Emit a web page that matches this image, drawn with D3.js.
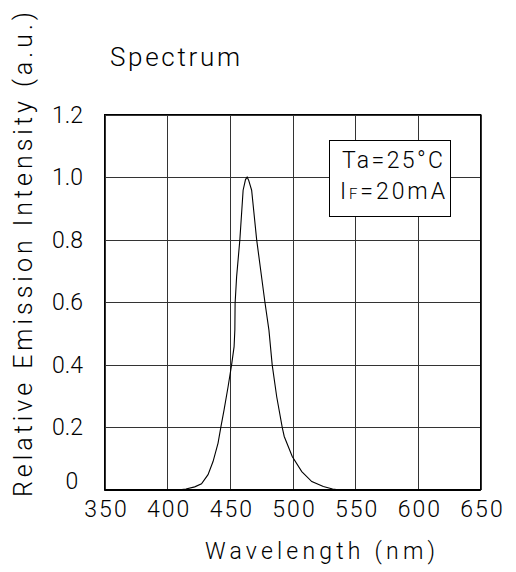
<!DOCTYPE html>
<html>
<head>
<meta charset="utf-8">
<script src="https://cdn.jsdelivr.net/npm/d3@7/dist/d3.min.js"></script>
<style>
    body { margin: 0; background: #fff; }
    text { font-family: Roboto, "DejaVu Sans", sans-serif; font-weight: 300; fill: #000; }
    .grid line { stroke: #333; stroke-width: 1; }
    .frame { fill: none; stroke: #000; stroke-width: 1; }
    .curve { fill: none; stroke: #000; stroke-width: 1.1; }
</style>
</head>
<body>
<script>
(function() {

//data
    var wavelength = [400, 410, 415, 422, 427.4, 432.6, 436.6, 440.6, 442.8, 445.4, 448.6, 451.4, 453.4, 454, 454.2, 455.4, 458, 460.6, 462.5, 463.8,
        465, 467.4, 471.4, 478, 481.2, 483.8, 487.4, 491.8, 493.4, 499.8, 507.4, 515.4, 524.6, 532, 538];
    var intensity = [0, 0.001, 0.003, 0.010, 0.020, 0.049, 0.091, 0.150, 0.200, 0.256, 0.330, 0.400, 0.458, 0.511, 0.596, 0.681, 0.800, 0.958, 0.992, 1.0,
        0.99, 0.958, 0.800, 0.600, 0.511, 0.400, 0.298, 0.200, 0.171, 0.107, 0.059, 0.027, 0.011, 0.003, 0];

    var xTicks = [350, 400, 450, 500, 550, 600, 650];
    var yTicks = [0, 0.2, 0.4, 0.6, 0.8, 1.0, 1.2];
    var yTickLabels = ["0", "0.2", "0.4", "0.6", "0.8", "1.0", "1.2"];

//frame dimensions
    var width = 516,
        height = 572,
        plotLeft = 104.5,
        plotRight = 480.5,
        plotTop = 114.5,
        plotBottom = 490;

    var svg = d3.select("body")
        .append("svg")
        .attr("width", width)
        .attr("height", height);

    var xScale = d3.scaleLinear()
        .domain([350, 650])
        .range([plotLeft, plotRight]);

    var yScale = d3.scaleLinear()
        .domain([0, 1.2])
        .range([plotBottom, plotTop]);

    //grid lines
    var grid = svg.append("g").attr("class", "grid");

    grid.selectAll(".vline")
        .data(xTicks)
        .enter()
        .append("line")
        .attr("x1", function(d) { return Math.round(xScale(d)) + 0.5; })
        .attr("x2", function(d) { return Math.round(xScale(d)) + 0.5; })
        .attr("y1", plotTop)
        .attr("y2", plotBottom);

    grid.selectAll(".hline")
        .data(yTicks)
        .enter()
        .append("line")
        .attr("x1", plotLeft)
        .attr("x2", plotRight)
        .attr("y1", function(d) { return Math.round(yScale(d)) + 0.5; })
        .attr("y2", function(d) { return Math.round(yScale(d)) + 0.5; });

    //plot frame, bottom edge heavier
    svg.append("rect")
        .attr("class", "frame")
        .attr("x", plotLeft)
        .attr("y", plotTop)
        .attr("width", plotRight - plotLeft)
        .attr("height", plotBottom - plotTop);

    svg.append("line")
        .attr("x1", plotLeft)
        .attr("x2", plotRight)
        .attr("y1", plotBottom)
        .attr("y2", plotBottom)
        .style("stroke", "#000")
        .style("stroke-width", 2);

    //spectrum curve
    var points = wavelength.map(function(w, i) { return [w, intensity[i]]; });

    var line = d3.line()
        .x(function(d) { return xScale(d[0]); })
        .y(function(d) { return yScale(d[1]); });

    svg.append("path")
        .datum(points)
        .attr("class", "curve")
        .attr("d", line);

    //tick labels
    svg.selectAll(".xlabel")
        .data(xTicks)
        .enter()
        .append("text")
        .attr("x", function(d) { return xScale(d) + 2; })
        .attr("y", 517)
        .attr("text-anchor", "middle")
        .style("font-size", "23px")
        .style("letter-spacing", "2px")
        .text(function(d) { return d; });

    //zero label sits a bit higher and more centred than the others
    svg.selectAll(".ylabel")
        .data(yTicks)
        .enter()
        .append("text")
        .attr("x", function(d) { return d === 0 ? 72 : 83; })
        .attr("y", function(d) { return yScale(d) + (d === 0 ? -9 : 0); })
        .attr("dy", "0.35em")
        .attr("text-anchor", function(d) { return d === 0 ? "middle" : "end"; })
        .style("font-size", "23px")
        .text(function(d, i) { return yTickLabels[i]; });

    //titles
    svg.append("text")
        .attr("x", 110)
        .attr("y", 66)
        .attr("textLength", 130)
        .style("font-size", "26px")
        .text("Spectrum");

    svg.append("text")
        .attr("x", 205)
        .attr("y", 559)
        .attr("textLength", 230)
        .style("font-size", "23px")
        .text("Wavelength (nm)");

    svg.append("text")
        .attr("transform", "translate(32,254.5) rotate(-90)")
        .attr("text-anchor", "middle")
        .attr("textLength", 485)
        .style("font-size", "25px")
        .text("Relative Emission Intensity (a.u.)");

    //condition box
    svg.append("rect")
        .attr("class", "frame")
        .attr("x", 329.5)
        .attr("y", 140.5)
        .attr("width", 121)
        .attr("height", 76)
        .style("fill", "#fff");

    svg.append("text")
        .attr("x", 342)
        .attr("y", 167.5)
        .attr("textLength", 101)
        .style("font-size", "23px")
        .text("Ta=25°C");

    var cond = svg.append("text")
        .attr("x", 340)
        .attr("y", 198.5)
        .attr("textLength", 105)
        .style("font-size", "23px");
    cond.append("tspan").text("I");
    cond.append("tspan").style("font-size", "15px").text("F");
    cond.append("tspan").text("=20mA");

})();
</script>
</body>
</html>
